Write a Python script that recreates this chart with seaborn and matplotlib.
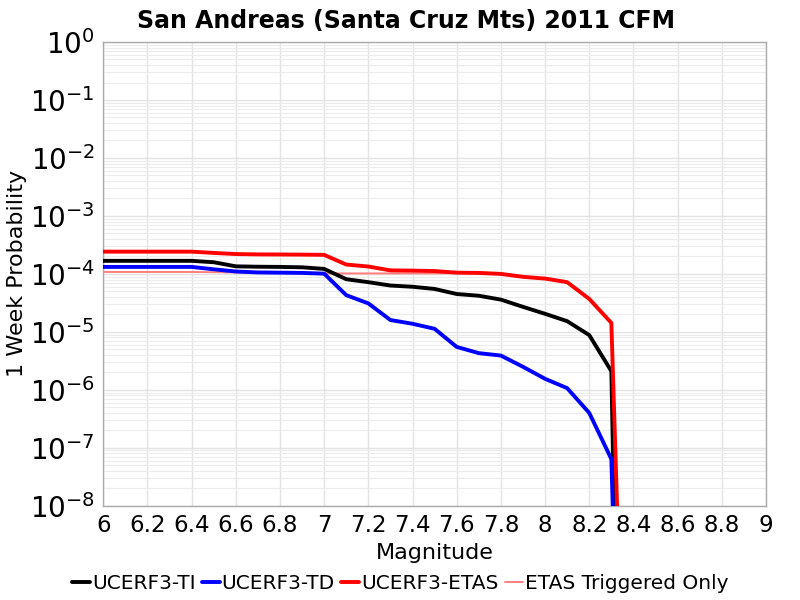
import numpy as np
import pandas as pd
import seaborn as sns
import matplotlib
matplotlib.use("Agg")
import matplotlib.pyplot as plt
from matplotlib.ticker import LogLocator, NullFormatter

title = "San Andreas (Santa Cruz Mts) 2011 CFM"
magnitudes = [6.0, 6.1, 6.2, 6.3, 6.4, 6.5, 6.6, 6.7, 6.8, 6.9, 7.0, 7.1, 7.2, 7.3,
              7.4, 7.5, 7.6, 7.7, 7.8, 7.9, 8.0, 8.1, 8.2, 8.3, 8.4]
ucerf3_ti = [1.68e-4, 1.68e-4, 1.68e-4, 1.68e-4, 1.68e-4, 1.59e-4, 1.35e-4, 1.33e-4,
             1.32e-4, 1.30e-4, 1.22e-4, 8.1e-5, 7.2e-5, 6.3e-5, 6.0e-5, 5.5e-5,
             4.5e-5, 4.2e-5, 3.6e-5, 2.7e-5, 2.05e-5, 1.53e-5, 8.8e-6, 2.1e-6, 1e-25]
ucerf3_td = [1.32e-4, 1.32e-4, 1.32e-4, 1.32e-4, 1.32e-4, 1.20e-4, 1.10e-4, 1.06e-4,
             1.05e-4, 1.04e-4, 1.01e-4, 4.3e-5, 3.1e-5, 1.6e-5, 1.38e-5, 1.13e-5,
             5.5e-6, 4.3e-6, 3.9e-6, 2.5e-6, 1.55e-6, 1.07e-6, 4.0e-7, 6.4e-8, 1e-20]
ucerf3_etas = [2.42e-4, 2.42e-4, 2.42e-4, 2.42e-4, 2.42e-4, 2.30e-4, 2.20e-4, 2.17e-4,
               2.16e-4, 2.15e-4, 2.13e-4, 1.45e-4, 1.34e-4, 1.15e-4, 1.14e-4, 1.12e-4,
               1.05e-4, 1.04e-4, 1.0e-4, 8.9e-5, 8.3e-5, 7.2e-5, 3.7e-5, 1.43e-5, 1e-17]
etas_triggered = [1.08e-4, 1.08e-4, 1.08e-4, 1.08e-4, 1.08e-4, 1.07e-4, 1.06e-4, 1.05e-4,
                  1.04e-4, 1.03e-4, 1.02e-4, 1.02e-4, 1.02e-4, 1.02e-4, 1.02e-4, 1.02e-4,
                  1.03e-4, 1.03e-4, 0.99e-4, 8.8e-5, 8.2e-5, 7.1e-5, 3.65e-5, 1.42e-5, 1e-17]

series_names = ["UCERF3-TI", "UCERF3-TD", "UCERF3-ETAS", "ETAS Triggered Only"]
series_values = [ucerf3_ti, ucerf3_td, ucerf3_etas, etas_triggered]
colors = ["#000000", "#0000ff", "#ff0000", "#ff7f7f"]
widths = [2.8, 2.8, 2.8, 1.4]
zorders = [3, 3, 4, 2]

df = pd.concat([pd.DataFrame({"Magnitude": magnitudes, "Probability": v, "Series": n})
                for n, v in zip(series_names, series_values)], ignore_index=True)

sns.set_theme(style="white")
plt.rcParams['font.family'] = ['DejaVu Sans']
plt.rcParams['text.color'] = 'black'
plt.rcParams['axes.labelcolor'] = 'black'

fig = plt.figure(figsize=(8, 6), dpi=100)
ax = fig.add_axes([0.129, 0.157, 0.8285, 0.773])

ax.set_yscale("log")
for n, c, w, z in zip(series_names, colors, widths, zorders):
    sub = df[df["Series"] == n]
    sns.lineplot(data=sub, x="Magnitude", y="Probability", color=c, linewidth=w,
                 ax=ax, label=n, legend=False, zorder=z)

ax.set_xlim(6, 9)
ax.set_ylim(1e-8, 1)
xt = np.round(np.arange(6, 9.01, 0.2), 1)
ax.set_xticks(xt)
ax.set_xticklabels([("%g" % t) for t in xt])
ax.yaxis.set_major_locator(LogLocator(base=10, numticks=20))
ax.yaxis.set_minor_locator(LogLocator(base=10, subs=np.arange(2, 10), numticks=20))
ax.yaxis.set_minor_formatter(NullFormatter())

ax.grid(True, which="major", color="#e3e3e3", linewidth=1.0)
ax.grid(True, which="minor", axis="y", color="#ececec", linewidth=0.8)
ax.set_axisbelow(True)

for s in ax.spines.values():
    s.set_color("#aaaaaa")
    s.set_linewidth(1.0)
ax.tick_params(axis="both", which="both", length=0, colors="black", pad=6)
ax.tick_params(axis="x", labelsize=16.5)
ax.tick_params(axis="y", labelsize=20)

fig.text(0.508, 0.965, title, fontsize=17, fontweight="bold", ha="center", va="center",
         color="black")
ax.set_xlabel("Magnitude", fontsize=16, labelpad=4, color="black")
ax.set_ylabel("1 Week Probability", fontsize=16, labelpad=2, color="black")

handles, labels = ax.get_legend_handles_labels()
leg = fig.legend(handles, labels, loc="center", bbox_to_anchor=(0.5, 0.028), ncol=4,
                 frameon=False, fontsize=14.5, handlelength=0.9, handletextpad=0.1,
                 columnspacing=0.3, borderaxespad=0)
for t in leg.get_texts():
    t.set_color("black")

fig.savefig("out.png", dpi=100)
